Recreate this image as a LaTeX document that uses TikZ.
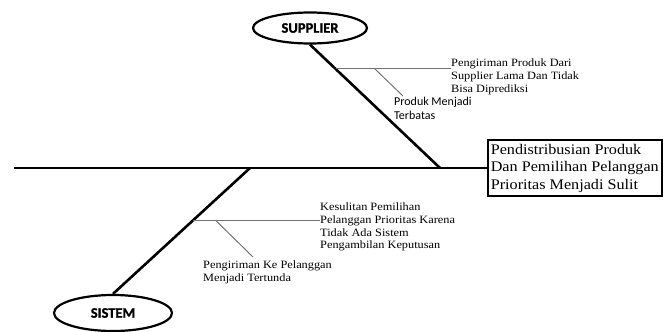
\documentclass[tikz,border=0pt]{standalone}
\usepackage{fontspec}
\setmainfont{Liberation Serif}
\newfontfamily\causefont[FakeStretch=1.1]{Liberation Serif}
\newfontfamily\catfont{Carlito}[BoldFont={Carlito Bold}, BoldFeatures={FakeBold=1.2}]
\usetikzlibrary{shapes.geometric,calc}

\begin{document}
\begin{tikzpicture}[
  x=1pt, y=-1pt,
  bone/.style={line width=2.6pt},
  sub/.style={line width=1pt, black!55},
  category/.style={draw, ellipse, line width=2.2pt, minimum width=114pt, minimum height=31pt, inner sep=0pt, font=\catfont\bfseries\fontsize{14.5}{15}\selectfont},
  effect/.style={draw, line width=1.6pt, align=left, minimum width=169pt, minimum height=56pt, inner xsep=3pt, font=\causefont\fontsize{14.7}{17.5}\selectfont},
  cause/.style={align=left, inner sep=0pt, font=\causefont\fontsize{11.2}{12.6}\selectfont},
  causesans/.style={align=left, inner sep=0pt, font=\catfont\fontsize{12}{14}\selectfont}
]
\useasboundingbox (0,0) rectangle (664,332);

% Head and spine
\node[effect, anchor=west] (head) at (487,168) {Pendistribusian Produk\\Dan Pemilihan Pelanggan\\Prioritas Menjadi Sulit};
\coordinate (tail) at (14,168);
\draw[bone] (tail) -- (head.west);

% Supplier bone
\node[category] (supplier) at (310,28) {SUPPLIER};
\coordinate (supjoint) at (440,168);
\draw[bone] (supplier.south) -- (supjoint);

\path (supplier.south) -- (supjoint) coordinate[pos=0.197] (s1);
\node[cause, anchor=north west] (s1txt) at (451,59) {Pengiriman Produk Dari\\Supplier Lama Dan Tidak\\Bisa Diprediksi};
\draw[sub] (s1) -- (s1 -| s1txt.west);

\path (s1) -- (s1 -| s1txt.west) coordinate[pos=0.34] (s1a);
\node[causesans, anchor=north west] (s1sub) at (394,97) {Produk Menjadi\\Terbatas};
\draw[sub] (s1a) -- ($(s1sub.north west)+(9,-1)$);

% Sistem bone
\node[category, minimum width=118pt, minimum height=36pt] (sistem) at (113,313) {SISTEM};
\coordinate (sisjoint) at (250,168);
\draw[bone] (sistem.north) -- (sisjoint);

\path (sistem.north) -- (sisjoint) coordinate[pos=0.583] (s2);
\node[cause, anchor=north west] (s2txt) at (320,203) {Kesulitan Pemilihan\\Pelanggan Prioritas Karena\\Tidak Ada Sistem\\Pengambilan Keputusan};
\draw[sub] (s2) -- (s2 -| s2txt.west);

\path (s2) -- (s2 -| s2txt.west) coordinate[pos=0.18] (s2a);
\node[cause, anchor=north west] (s2sub) at (203,261) {Pengiriman Ke Pelanggan\\Menjadi Tertunda};
\draw[sub] (s2a) -- ($(s2sub.north west)+(50,-4)$);

\end{tikzpicture}
\end{document}
